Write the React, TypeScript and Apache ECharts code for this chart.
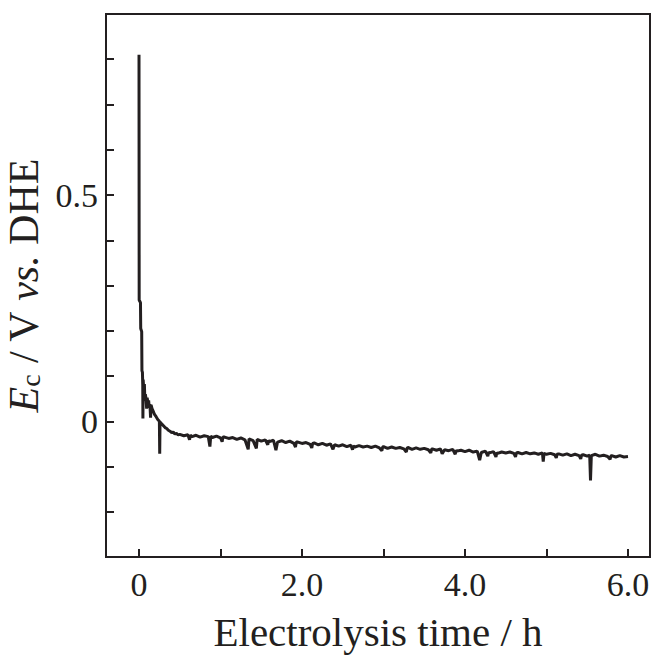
import React, { useEffect, useRef } from "react";
import * as echarts from "echarts";

// Electrolysis time (h) and cathode potential E_c (V vs. DHE)
const timeHours: number[] = [
  0, 0.002, 0.018, 0.021, 0.033, 0.036, 0.042, 0.046, 0.048, 0.051, 0.058, 0.066, 0.072, 0.078,
  0.086, 0.094, 0.1, 0.11, 0.118, 0.126, 0.134, 0.142, 0.148, 0.16, 0.175, 0.19, 0.21, 0.23,
  0.25, 0.254, 0.258, 0.28, 0.3, 0.32, 0.34, 0.36, 0.38, 0.4, 0.42, 0.44, 0.46, 0.48, 0.5,
  0.55, 0.6, 0.62, 0.63, 0.65, 0.7, 0.75, 0.8, 0.85, 0.87, 0.88, 0.9, 0.95, 1.0,
  1.02, 1.03, 1.05, 1.1, 1.15, 1.2, 1.25, 1.3, 1.34, 1.35, 1.4, 1.44, 1.45, 1.5,
  1.55, 1.58, 1.59, 1.6, 1.65, 1.68, 1.7, 1.75, 1.8, 1.85, 1.9, 1.92, 1.93, 1.95, 2.0,
  2.05, 2.1, 2.12, 2.13, 2.15, 2.2, 2.25, 2.3, 2.35, 2.38, 2.4, 2.45, 2.5,
  2.55, 2.6, 2.62, 2.63, 2.65, 2.7, 2.75, 2.8, 2.85, 2.9, 2.95, 2.98, 2.99, 3.0,
  3.05, 3.1, 3.15, 3.2, 3.25, 3.28, 3.29, 3.3, 3.35, 3.4, 3.45, 3.5,
  3.55, 3.58, 3.59, 3.6, 3.65, 3.7, 3.72, 3.75, 3.8, 3.85, 3.88, 3.89, 3.9, 3.95, 4.0,
  4.05, 4.1, 4.15, 4.18, 4.2, 4.25, 4.28, 4.29, 4.3, 4.35, 4.38, 4.39, 4.4, 4.45, 4.5,
  4.55, 4.6, 4.62, 4.63, 4.65, 4.7, 4.75, 4.8, 4.85, 4.9, 4.95, 4.96, 4.97, 5.0,
  5.05, 5.1, 5.12, 5.13, 5.15, 5.2, 5.25, 5.3, 5.35, 5.4, 5.42, 5.43, 5.45, 5.5,
  5.53, 5.54, 5.55, 5.6, 5.65, 5.7, 5.75, 5.78, 5.79, 5.8, 5.85, 5.9, 5.95, 6.0,
];

const potentialV: number[] = [
  0.81, 0.268, 0.262, 0.205, 0.198, 0.112, 0.108, 0.08, 0.006, 0.092, 0.07, 0.082, 0.045, 0.06,
  0.05, 0.028, 0.052, 0.04, 0.046, 0.03, 0.038, 0.008, 0.036, 0.028, 0.022, 0.015, 0.01, 0.004,
  0.0, -0.072, -0.002, -0.006, -0.01, -0.014, -0.016, -0.02, -0.022, -0.025, -0.024, -0.028, -0.027, -0.03, -0.029,
  -0.032, -0.03, -0.041, -0.031, -0.034, -0.031, -0.035, -0.032, -0.034, -0.056, -0.033, -0.036, -0.033, -0.037,
  -0.045, -0.035, -0.035, -0.038, -0.036, -0.04, -0.037, -0.041, -0.062, -0.039, -0.043, -0.06, -0.04, -0.044,
  -0.041, -0.052, -0.042, -0.045, -0.042, -0.064, -0.046, -0.043, -0.047, -0.044, -0.049, -0.057, -0.046, -0.046, -0.049,
  -0.047, -0.051, -0.059, -0.049, -0.048, -0.052, -0.049, -0.053, -0.05, -0.062, -0.052, -0.055, -0.052,
  -0.056, -0.053, -0.063, -0.055, -0.057, -0.054, -0.057, -0.055, -0.058, -0.055, -0.059, -0.065, -0.057, -0.056,
  -0.06, -0.057, -0.06, -0.058, -0.061, -0.068, -0.059, -0.058, -0.062, -0.059, -0.062, -0.06,
  -0.063, -0.07, -0.062, -0.061, -0.064, -0.061, -0.072, -0.063, -0.065, -0.062, -0.073, -0.064, -0.066, -0.064, -0.067,
  -0.064, -0.068, -0.066, -0.086, -0.069, -0.066, -0.077, -0.068, -0.07, -0.067, -0.079, -0.069, -0.071, -0.068, -0.07,
  -0.068, -0.071, -0.079, -0.07, -0.069, -0.072, -0.069, -0.072, -0.07, -0.073, -0.07, -0.089, -0.071, -0.073,
  -0.071, -0.074, -0.081, -0.073, -0.072, -0.075, -0.072, -0.076, -0.073, -0.076, -0.083, -0.075, -0.074, -0.077,
  -0.075, -0.131, -0.076, -0.073, -0.077, -0.075, -0.078, -0.084, -0.077, -0.076, -0.079, -0.076, -0.079, -0.078,
];

const xTickValues = [0, 1, 2, 3, 4, 5, 6];
const xLabelValues = [0, 2, 4, 6];
const yTickValues = [-0.2, -0.1, 0, 0.1, 0.2, 0.3, 0.4, 0.5, 0.6, 0.7, 0.8];
const yLabelValues = [0, 0.5];

const INK = "#231f20";
const SERIF = "'Liberation Serif', 'Times New Roman', serif";

const fmt = (v: number) => (Math.abs(v) < 1e-9 ? "0" : v.toFixed(1));

export default function App() {
  const ref = useRef<HTMLDivElement>(null);
  useEffect(() => {
    if (!ref.current) return;
    const chart = echarts.init(ref.current, null, { renderer: "svg" });
    const data = timeHours.map((t, i) => [t, potentialV[i]]);
    chart.setOption({
      animation: false,
      backgroundColor: "#ffffff",
      grid: {
        left: 106,
        right: 2,
        top: 14,
        bottom: 98,
        show: true,
        borderColor: INK,
        borderWidth: 2,
        outerBoundsMode: "none",
      },
      xAxis: {
        type: "value",
        min: -0.405,
        max: 6.27,
        splitLine: { show: false },
        axisLine: { show: true, onZero: false, lineStyle: { color: INK, width: 2 } },
        axisTick: {
          show: true,
          inside: true,
          length: 8,
          customValues: xTickValues,
          lineStyle: { color: INK, width: 2 },
        },
        axisLabel: {
          customValues: xLabelValues,
          formatter: fmt,
          fontFamily: SERIF,
          fontSize: 34,
          color: INK,
          margin: 10,
        },
        name: "Electrolysis time / h",
        nameLocation: "middle",
        nameGap: 54,
        nameTextStyle: { fontFamily: SERIF, fontSize: 41, color: INK },
      },
      yAxis: {
        type: "value",
        min: -0.3,
        max: 0.9,
        splitLine: { show: false },
        axisLine: { show: true, onZero: false, lineStyle: { color: INK, width: 2 } },
        axisTick: {
          show: true,
          inside: true,
          length: 8,
          customValues: yTickValues,
          lineStyle: { color: INK, width: 2 },
        },
        axisLabel: {
          customValues: yLabelValues,
          formatter: fmt,
          fontFamily: SERIF,
          fontSize: 34,
          color: INK,
          margin: 8,
        },
        name: "{i|E}{sub|c}{n| / V }{i|vs.}{n| DHE}",
        nameLocation: "middle",
        nameGap: 58,
        nameTextStyle: {
          fontFamily: SERIF,
          fontSize: 42,
          color: INK,
          rich: {
            i: { fontFamily: SERIF, fontSize: 42, fontStyle: "italic", color: INK, lineHeight: 42 },
            n: { fontFamily: SERIF, fontSize: 42, color: INK, lineHeight: 42 },
            sub: {
              fontFamily: SERIF,
              fontSize: 28,
              color: INK,
              lineHeight: 26,
              verticalAlign: "bottom",
            },
          },
        },
      },
      series: [
        {
          type: "line",
          data,
          showSymbol: false,
          symbol: "none",
          lineStyle: { color: INK, width: 3 },
        },
      ],
    });
    return () => chart.dispose();
  }, []);
  return (
    <div
      ref={ref}
      style={{ position: "fixed", left: 0, top: 0, width: 652, height: 655, background: "#fff" }}
    />
  );
}
